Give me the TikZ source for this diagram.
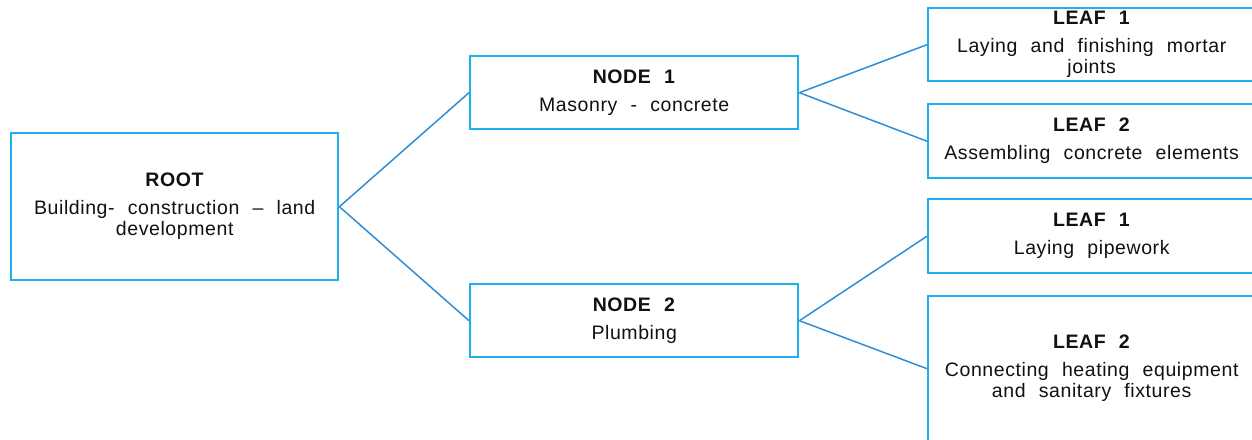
\documentclass[tikz,border=0pt]{standalone}
\usepackage{fontspec}
\setmainfont{Liberation Sans}[LetterSpace=3,WordSpace=2.2]
\definecolor{boxblue}{HTML}{1CB0EC}
\definecolor{lineblue}{HTML}{2F8ED6}
\definecolor{txt}{HTML}{111111}
\tikzset{
  treebox/.style={draw=boxblue, line width=2.4pt, rectangle, inner sep=0pt, anchor=north west,
    align=center, text=txt, font=\fontsize{19.5}{21}\selectfont},
  link/.style={draw=lineblue, line width=1.5pt}
}
\newcommand{\ttl}[1]{\textbf{#1}\\[7pt]}
\begin{document}
\begin{tikzpicture}[x=1pt,y=-1pt]
\useasboundingbox (0,0) rectangle (1252,439);
\clip (0,0) rectangle (1252,439);
\fill[white] (0,0) rectangle (1252,439);
\node[treebox, minimum width=327pt, minimum height=147pt] (root) at (10,132) {\ttl{ROOT}Building- construction – land\\development};
\node[treebox, minimum width=328pt, minimum height=73pt] (n1) at (469,55) {\ttl{NODE 1}Masonry - concrete};
\node[treebox, minimum width=328pt, minimum height=73pt] (n2) at (469,283) {\ttl{NODE 2}Plumbing};
\node[treebox, minimum width=327pt, minimum height=73pt] (l1a) at (927,7) {\ttl{LEAF 1}Laying and finishing mortar\\joints};
\node[treebox, minimum width=327pt, minimum height=74pt] (l2a) at (927,103) {\ttl{LEAF 2}Assembling concrete elements};
\node[treebox, minimum width=327pt, minimum height=74pt] (l1b) at (927,198) {\ttl{LEAF 1}Laying pipework};
\node[treebox, minimum width=327pt, minimum height=145pt] (l2b) at (927,295) {\ttl{LEAF 2}Connecting heating equipment\\and sanitary fixtures};
\draw[link] (root.east) -- (n1.west);
\draw[link] (root.east) -- (n2.west);
\draw[link] (n1.east) -- (l1a.west);
\draw[link] (n1.east) -- (l2a.west);
\draw[link] (n2.east) -- (l1b.west);
\draw[link] (n2.east) -- (l2b.west);
\end{tikzpicture}
\end{document}
